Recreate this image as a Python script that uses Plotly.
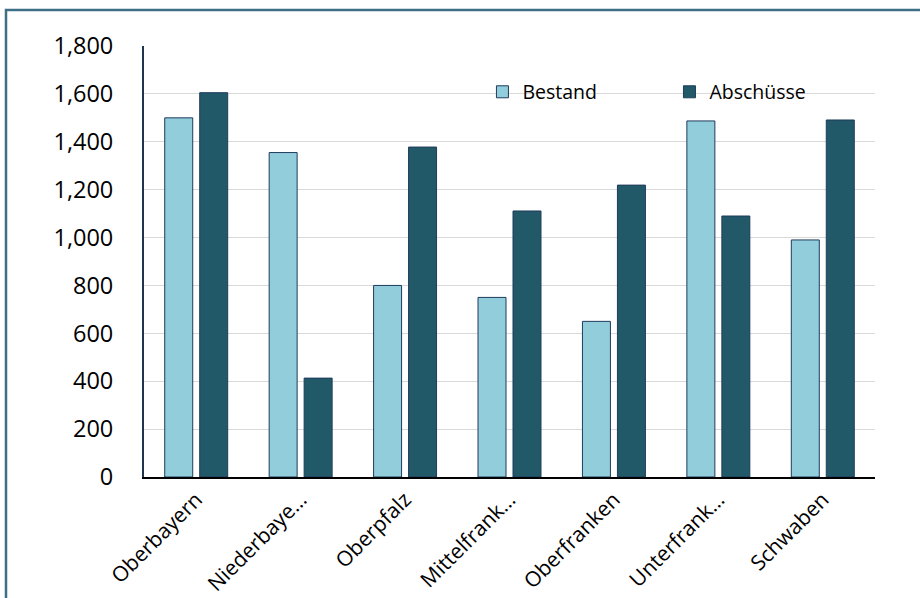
import plotly.graph_objects as go

categories = ["Oberbayern", "Niederbayern", "Oberpfalz", "Mittelfranken", "Oberfranken", "Unterfranken", "Schwaben"]
tick_labels = ["Oberbayern", "Niederbaye…", "Oberpfalz", "Mittelfrank…", "Oberfranken", "Unterfrank…", "Schwaben"]
bestand = [1500, 1355, 800, 750, 650, 1487, 990]
abschuesse = [1605, 413, 1378, 1111, 1219, 1090, 1491]
y_ticks = [0, 200, 400, 600, 800, 1000, 1200, 1400, 1600, 1800]

FONT = "Open Sans"
outline = dict(color="#1f3b5c", width=1)

fig = go.Figure()
fig.add_trace(go.Bar(name="Bestand", x=categories, y=bestand,
                     marker=dict(color="#92cddc", line=outline)))
fig.add_trace(go.Bar(name="Abschüsse", x=categories, y=abschuesse,
                     marker=dict(color="#215968", line=outline)))

fig.update_layout(
    width=920, height=598,
    margin=dict(l=144, r=45, t=46, b=121, autoexpand=False),
    paper_bgcolor="white", plot_bgcolor="white",
    barmode="group", bargap=0.33, bargroupgap=0.2,
    font=dict(family=FONT, color="#000000"),
    showlegend=True,
    legend=dict(orientation="h", x=0.463, y=0.893, xanchor="left", yanchor="middle",
                font=dict(size=19.5, family=FONT), entrywidth=142, entrywidthmode="pixels",
                bgcolor="rgba(0,0,0,0)"),
    xaxis=dict(tickvals=categories, ticktext=tick_labels, tickangle=-45,
               tickfont=dict(size=21, family=FONT), showline=True, linecolor="#000000",
               linewidth=2, ticks="", showgrid=False, automargin=False),
    yaxis=dict(range=[0, 1800], tickvals=y_ticks, tickformat=",d",
               tickfont=dict(size=23.5, family=FONT), showline=True, linecolor="#1f3550",
               linewidth=2, ticks="", gridcolor="#d9d9d9", gridwidth=1, zeroline=False,
               ticklabelstandoff=24, automargin=False),
    shapes=[dict(type="rect", xref="paper", yref="paper",
                 x0=(6 - 144) / 731, x1=(930 - 144) / 731,
                 y0=(477 - 610) / 431, y1=(477 - 10) / 431,
                 line=dict(color="#3f6f86", width=2.5), fillcolor="rgba(0,0,0,0)",
                 layer="below")],
)

fig.write_html("out.html")
